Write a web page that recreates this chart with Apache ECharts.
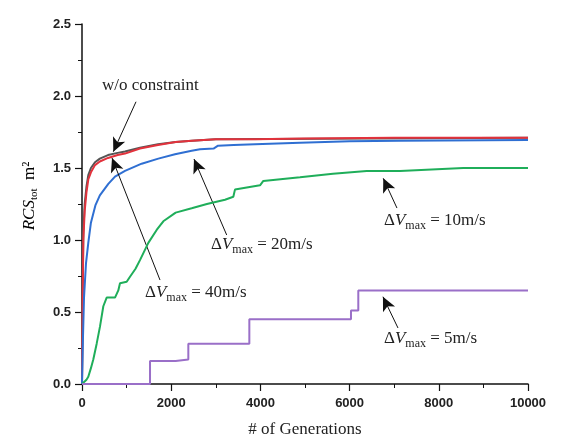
<!DOCTYPE html>
<html>
<head>
<meta charset="utf-8">
<script src="https://cdn.jsdelivr.net/npm/echarts@6/dist/echarts.min.js"></script>
<style>
    html, body { margin: 0; padding: 0; background: #fff; }
    #chart { width: 575px; height: 438px; }
</style>
</head>
<body>
<div id="chart"></div>
<script>
const xTicks = [0, 2000, 4000, 6000, 8000, 10000]
const yTicks = ['0.0', '0.5', '1.0', '1.5', '2.0', '2.5']

// [generation, RCS]
const noConstraint = [[0, 0], [15, 0.65], [30, 1.05], [60, 1.25], [100, 1.37], [141, 1.45], [200, 1.5], [291, 1.54], [400, 1.565], [583, 1.59], [800, 1.605], [964, 1.615], [1300, 1.64], [1704, 1.665], [2100, 1.68], [2466, 1.69], [3000, 1.7], [10000, 1.71]]
const dv40 = [[0, 0], [15, 0.6], [30, 1.0], [60, 1.2], [100, 1.33], [141, 1.42], [200, 1.47], [291, 1.52], [400, 1.545], [583, 1.57], [800, 1.59], [964, 1.6], [1300, 1.635], [1704, 1.66], [2100, 1.68], [2466, 1.69], [3000, 1.7], [3880, 1.7], [5000, 1.705], [7000, 1.71], [10000, 1.71]]
const dv20 = [[0, 0], [20, 0.3], [45, 0.6], [90, 0.84], [141, 0.98], [200, 1.12], [300, 1.24], [400, 1.31], [590, 1.39], [740, 1.44], [964, 1.48], [1338, 1.53], [1711, 1.565], [2085, 1.595], [2459, 1.62], [2646, 1.63], [2950, 1.635], [3050, 1.655], [3400, 1.66], [3879, 1.665], [4888, 1.675], [6000, 1.685], [7130, 1.69], [10000, 1.695]]
const dv10 = [[0, 0], [100, 0.03], [141, 0.05], [200, 0.11], [253, 0.17], [329, 0.28], [404, 0.4], [478, 0.54], [553, 0.6], [740, 0.6], [814, 0.65], [852, 0.7], [1002, 0.71], [1076, 0.745], [1200, 0.8], [1300, 0.86], [1487, 0.98], [1674, 1.07], [1823, 1.13], [2100, 1.19], [2459, 1.22], [2800, 1.25], [3206, 1.28], [3393, 1.3], [3430, 1.35], [3991, 1.38], [4066, 1.41], [4888, 1.435], [5627, 1.46], [6383, 1.48], [7130, 1.48], [8550, 1.5], [10000, 1.5]]
const dv5 = [[0, 0], [1525, 0], [1525, 0.16], [2100, 0.16], [2120, 0.17], [2384, 0.17], [2384, 0.28], [3752, 0.28], [3752, 0.45], [6031, 0.45], [6031, 0.51], [6195, 0.51], [6195, 0.65], [10000, 0.65]]

// arrows: [tail, tip] in data units
const arrows = [
    [[1211, 1.96], [702, 1.613]],
    [[1749, 0.722], [673, 1.569]],
    [[3244, 1.035], [2511, 1.5625]],
    [[7062, 1.222], [6755, 1.428]],
    [[7085, 0.389], [6748, 0.606]]
]

const serif = '"Liberation Serif", "DejaVu Serif", serif'
const sans = '"Liberation Sans", Arial, sans-serif'

const dvRich = {
    a: { fontFamily: serif, fontSize: 17, color: '#222' },
    v: { fontFamily: serif, fontSize: 17, fontStyle: 'italic', color: '#222' },
    s: { fontFamily: serif, fontSize: 12, color: '#222', padding: [10, 0, 0, 0] }
}
const dvText = (n) => '{a|\u0394}{v|V}{s|max}{a| = ' + n + 'm/s}'

const label = (x, y, text, rich) => ({
    type: 'text',
    left: x,
    top: y,
    style: { text, rich, font: '17px ' + serif, fill: '#222' }
})

const line = (name, data, color, z) => ({
    name,
    type: 'line',
    data,
    showSymbol: false,
    z,
    lineStyle: { color, width: 2 },
    itemStyle: { color }
})

const chart = echarts.init(document.getElementById('chart'))

chart.setOption({
    animation: false,
    backgroundColor: '#fff',
    grid: { left: 82, right: 47, top: 24, bottom: 54, containLabel: false, outerBoundsMode: 'none' },
    xAxis: {
        type: 'value',
        min: 0,
        max: 10000,
        interval: 2000,
        name: '# of Generations',
        nameLocation: 'middle',
        nameGap: 37,
        nameTextStyle: { fontFamily: serif, fontSize: 17, color: '#222' },
        axisLine: { lineStyle: { color: '#111', width: 1.5 } },
        axisTick: { length: 7, lineStyle: { color: '#111', width: 1.2 } },
        minorTick: { show: true, splitNumber: 2, length: 4, lineStyle: { color: '#111' } },
        splitLine: { show: false },
        axisLabel: {
            margin: 13,
            fontFamily: sans,
            fontSize: 13,
            fontWeight: 'bold',
            color: '#222',
            formatter: (v) => String(xTicks.find(t => t === v) ?? v)
        }
    },
    yAxis: {
        type: 'value',
        min: 0,
        max: 2.5,
        interval: 0.5,
        axisLine: { show: true, lineStyle: { color: '#111', width: 1.5 } },
        axisTick: { show: true, length: 7, lineStyle: { color: '#111', width: 1.2 } },
        minorTick: { show: true, splitNumber: 2, length: 4, lineStyle: { color: '#111' } },
        splitLine: { show: false },
        axisLabel: {
            margin: 11,
            fontFamily: sans,
            fontSize: 13,
            fontWeight: 'bold',
            color: '#222',
            formatter: (v) => yTicks[Math.round(v / 0.5)]
        }
    },
    graphic: [
        {
            type: 'text',
            x: 30,
            y: 196,
            rotation: Math.PI / 2,
            style: {
                text: '{i|RCS}{s|tot}{a|  m\u00b2}',
                align: 'center',
                verticalAlign: 'middle',
                rich: {
                    i: { fontFamily: serif, fontSize: 17, fontStyle: 'italic', color: '#222' },
                    s: { fontFamily: serif, fontSize: 11, color: '#222', padding: [9, 0, 0, 0] },
                    a: { fontFamily: serif, fontSize: 17, color: '#222' }
                }
            }
        },
        label(102, 77, 'w/o constraint'),
        label(145, 284, dvText(40), dvRich),
        label(211, 236, dvText(20), dvRich),
        label(384, 212, dvText(10), dvRich),
        label(384, 330, dvText(5), dvRich)
    ],
    series: [
        line('w/o constraint', noConstraint, '#555555', 2),
        line('40m/s', dv40, '#e2323c', 3),
        line('20m/s', dv20, '#2f6fd2', 4),
        line('10m/s', dv10, '#1fae5a', 5),
        Object.assign(line('5m/s', dv5, '#9a6fc8', 6), {
            markLine: {
                silent: true,
                animation: false,
                symbol: ['none', 'arrow'],
                symbolSize: [10, 14],
                label: { show: false },
                lineStyle: { color: '#111', width: 1, type: 'solid' },
                data: arrows.map(([a, b]) => [{ coord: a }, { coord: b }])
            }
        })
    ]
})
</script>
</body>
</html>
